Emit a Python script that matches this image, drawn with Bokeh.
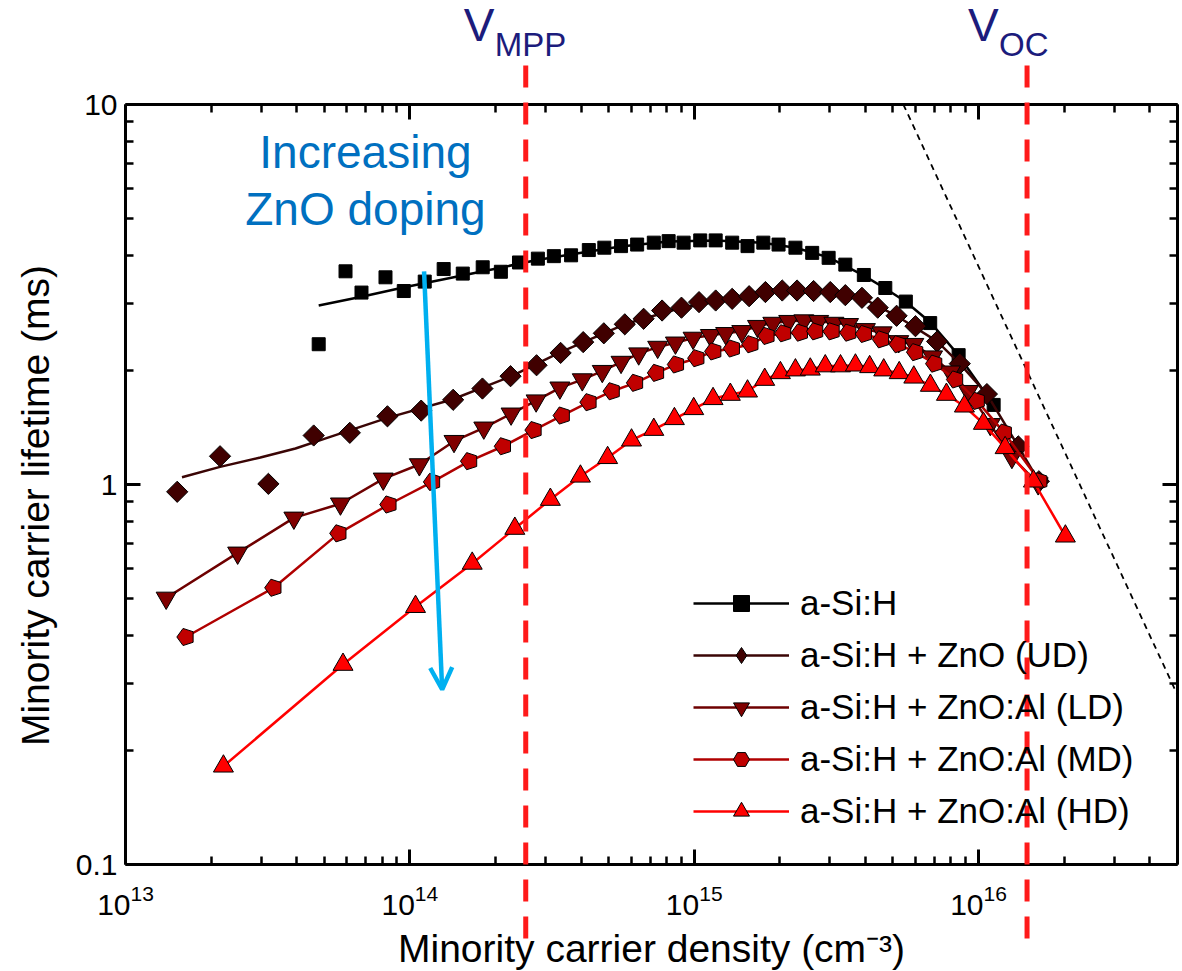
import math
from bokeh.plotting import figure
from bokeh.models import (ColumnDataSource, LogAxis, Label, Arrow, OpenHead, Whisker,
                          Legend, LegendItem, CustomJSTickFormatter, FixedTicker, Range1d)
from bokeh.embed import file_html
from bokeh.resources import INLINE

# ---------------- data ----------------
asi_x = [4.78e13, 5.94e13, 6.76e13, 8.21e13, 9.52e13, 1.128e14, 1.315e14, 1.535e14, 1.804e14, 2.09e14,
         2.42e14, 2.82e14, 3.21e14, 3.69e14, 4.26e14, 4.83e14, 5.53e14, 6.30e14, 7.21e14, 8.13e14,
         9.18e14, 1.05e15, 1.19e15, 1.36e15, 1.54e15, 1.75e15, 1.98e15, 2.27e15, 2.60e15, 2.97e15,
         3.40e15, 3.95e15, 4.70e15, 5.55e15, 6.76e15, 8.51e15, 1.13e16]
asi_y = [2.34, 3.64, 3.20, 3.51, 3.23, 3.42, 3.69, 3.59, 3.73, 3.63,
         3.84, 3.93, 3.99, 4.01, 4.14, 4.20, 4.24, 4.28, 4.33, 4.37,
         4.33, 4.39, 4.39, 4.33, 4.24, 4.33, 4.28, 4.20, 4.07, 3.95,
         3.79, 3.56, 3.29, 3.03, 2.66, 2.19, 1.62]
asi_fit_x = [4.78e13, 6.76e13, 9.48e13, 1.53e14, 2.08e14, 2.77e14, 3.67e14, 5.51e14, 8.11e14, 1.19e15,
             1.74e15, 2.27e15, 2.97e15, 3.94e15, 4.70e15, 5.53e15, 6.78e15, 8.50e15, 1.13e16]
asi_fit_y = [2.96, 3.12, 3.30, 3.55, 3.72, 3.89, 4.03, 4.23, 4.36, 4.39,
             4.33, 4.20, 3.96, 3.55, 3.28, 3.03, 2.67, 2.19, 1.62]

ud_x = [1.52e13, 2.15e13, 3.18e13, 4.59e13, 6.15e13, 8.34e13, 1.096e14, 1.42e14, 1.80e14, 2.26e14,
        2.79e14, 3.39e14, 4.07e14, 4.81e14, 5.70e14, 6.64e14, 7.71e14, 9.02e14, 1.04e15, 1.19e15,
        1.36e15, 1.56e15, 1.78e15, 2.04e15, 2.30e15, 2.63e15, 3.01e15, 3.40e15, 3.89e15, 4.42e15,
        5.15e15, 6.00e15, 7.15e15, 8.59e15, 1.07e16, 1.38e16, 1.63e16]
ud_y = [0.957, 1.187, 1.004, 1.346, 1.368, 1.512, 1.565, 1.671, 1.789, 1.928,
        2.06, 2.22, 2.37, 2.50, 2.64, 2.73, 2.87, 2.92, 3.02, 3.05,
        3.08, 3.13, 3.21, 3.24, 3.24, 3.23, 3.21, 3.15, 3.10, 2.92,
        2.78, 2.61, 2.38, 2.08, 1.73, 1.26, 1.02]
ud_fit_x = [1.58e13, 2.15e13, 2.98e13, 3.96e13, 5.12e13, 8.34e13, 1.41e14, 2.26e14, 3.39e14, 5.69e14,
            9.02e14, 1.36e15, 2.04e15, 3.01e15, 3.89e15, 5.14e15, 7.15e15, 8.59e15, 1.07e16, 1.38e16, 1.63e16]
ud_fit_y = [1.045, 1.113, 1.178, 1.244, 1.327, 1.498, 1.674, 1.924, 2.23, 2.64,
            2.92, 3.08, 3.24, 3.22, 3.10, 2.78, 2.38, 2.08, 1.73, 1.26, 1.02]

ld_x = [1.39e13, 2.48e13, 3.91e13, 5.70e13, 8.06e13, 1.08e14, 1.43e14, 1.82e14, 2.27e14, 2.78e14,
        3.37e14, 4.04e14, 4.75e14, 5.53e14, 6.38e14, 7.44e14, 8.59e14, 9.91e14, 1.14e15, 1.29e15,
        1.47e15, 1.67e15, 1.89e15, 2.15e15, 2.43e15, 2.74e15, 3.10e15, 3.49e15, 4.00e15, 4.58e15,
        5.24e15, 5.92e15, 6.89e15, 7.96e15, 9.21e15, 1.10e16, 1.31e16, 1.62e16]
ld_y = [0.503, 0.661, 0.817, 0.890, 1.035, 1.129, 1.300, 1.410, 1.535, 1.662,
        1.797, 1.889, 1.987, 2.10, 2.21, 2.30, 2.36, 2.43, 2.47, 2.50,
        2.53, 2.61, 2.66, 2.69, 2.70, 2.69, 2.66, 2.64, 2.56, 2.51,
        2.38, 2.34, 2.17, 1.98, 1.76, 1.44, 1.18, 1.006]

md_x = [1.63e13, 3.32e13, 5.62e13, 8.43e13, 1.20e14, 1.62e14, 2.13e14, 2.73e14, 3.43e14, 4.26e14,
        5.14e14, 6.21e14, 7.36e14, 8.65e14, 1.02e15, 1.17e15, 1.36e15, 1.58e15, 1.80e15, 2.06e15,
        2.36e15, 2.67e15, 3.05e15, 3.49e15, 3.96e15, 4.55e15, 5.21e15, 6.00e15, 7.00e15, 8.29e15,
        9.88e15, 1.23e16, 1.64e16]
md_y = [0.397, 0.535, 0.744, 0.886, 1.016, 1.152, 1.261, 1.391, 1.519, 1.647,
        1.760, 1.852, 1.967, 2.07, 2.15, 2.24, 2.28, 2.34, 2.46, 2.50,
        2.51, 2.53, 2.53, 2.51, 2.49, 2.41, 2.34, 2.23, 2.08, 1.89,
        1.66, 1.37, 1.02]

hd_x = [2.21e13, 5.82e13, 1.047e14, 1.657e14, 2.34e14, 3.12e14, 3.98e14, 4.96e14, 6.02e14, 7.21e14,
        8.52e14, 9.96e14, 1.165e15, 1.34e15, 1.54e15, 1.77e15, 2.01e15, 2.27e15, 2.56e15, 2.89e15,
        3.27e15, 3.69e15, 4.14e15, 4.64e15, 5.26e15, 5.92e15, 6.77e15, 7.71e15, 8.92e15, 1.04e16,
        1.24e16, 1.56e16, 2.02e16]
hd_y = [0.1814, 0.336, 0.477, 0.620, 0.766, 0.913, 1.051, 1.176, 1.308, 1.395,
        1.489, 1.582, 1.681, 1.725, 1.760, 1.889, 1.967, 2.00, 2.01, 2.05,
        2.05, 2.06, 2.04, 2.00, 1.967, 1.915, 1.822, 1.725, 1.607, 1.447,
        1.249, 1.02, 0.731]

# auger-like limit (dashed black)
limit_x = [5.44e15, 5.0e16]
limit_y = [10.0, 0.28]

# operating points (vertical dashed lines run past the axes box)
vmpp_x = 2.556e14
voc_x = 1.481e16
vline_top = 12.66
vline_bottom = 0.0605

# arrow "increasing ZnO doping"
arrow_start = (1.122e14, 3.64)
arrow_end = (1.299e14, 0.2888)

series_names = ["a-Si:H", "a-Si:H + ZnO (UD)", "a-Si:H + ZnO:Al (LD)",
                "a-Si:H + ZnO:Al (MD)", "a-Si:H + ZnO:Al (HD)"]

x_axis_lim = (1e13, 5e16)
y_axis_lim = (0.1, 10)
x_major = [1e13, 1e14, 1e15, 1e16]
y_major = [0.1, 1, 10]
x_minor = [m * 10 ** e for e in (13, 14, 15, 16) for m in range(2, 10) if m * 10 ** e <= 5e16]
y_minor = [m * 10 ** e for e in (-1, 0) for m in range(2, 10)]

# visible window: the drawing area covers the whole page so that the dashed
# operating-point lines and their labels can leave the axes box
x_view = (3.634e12, 5.215e16)
y_view = (0.05231, 18.78)

# ---------------- figure ----------------
FONT = "Liberation Sans"
p = figure(frame_width=1182, frame_height=971, x_axis_type="log", y_axis_type="log",
           x_range=Range1d(*x_view), y_range=Range1d(*y_view),
           output_backend="svg", toolbar_location=None,
           min_border_left=0, min_border_top=0, min_border_right=0, min_border_bottom=0)
p.grid.visible = False
p.outline_line_color = None
p.background_fill_color = "white"
p.border_fill_color = "white"

xticker = FixedTicker(ticks=x_major, minor_ticks=x_minor)
yticker = FixedTicker(ticks=y_major, minor_ticks=y_minor)


def style_axis(ax):
    ax.axis_line_width = 3
    ax.major_tick_line_width = 3
    ax.minor_tick_line_width = 2.5
    ax.major_tick_in = 15
    ax.major_tick_out = 0
    ax.minor_tick_in = 8
    ax.minor_tick_out = 0
    ax.major_label_text_font = FONT
    ax.major_label_text_font_size = "30px"
    ax.major_label_text_color = "black"


xa = p.xaxis[0]
xa.ticker = xticker
style_axis(xa)
xa.fixed_location = y_axis_lim[0]
xa.bounds = x_axis_lim
xa.major_label_standoff = 20

ya = p.yaxis[0]
ya.ticker = yticker
style_axis(ya)
ya.fixed_location = x_axis_lim[0]
ya.bounds = y_axis_lim
ya.formatter = CustomJSTickFormatter(code="return tick < 1 ? tick.toFixed(1) : tick.toFixed(0);")
ya.major_label_standoff = 8

blank = "return '';"
top_ax = LogAxis(ticker=xticker, formatter=CustomJSTickFormatter(code=blank))
style_axis(top_ax)
top_ax.fixed_location = y_axis_lim[1]
top_ax.bounds = x_axis_lim
top_ax.major_label_standoff = 0
p.add_layout(top_ax, "above")
right_ax = LogAxis(ticker=yticker, formatter=CustomJSTickFormatter(code=blank))
style_axis(right_ax)
right_ax.fixed_location = x_axis_lim[1]
right_ax.bounds = y_axis_lim
right_ax.major_label_standoff = 0
p.add_layout(right_ax, "right")

# axis titles
p.add_layout(Label(x=7.08e14, y=0.0601, text="Minority carrier density (cm\u207b\u00b3)",
                   text_font=FONT, text_font_size="39px", text_color="black",
                   text_align="center", text_baseline="alphabetic"))
p.add_layout(Label(x=4.83e12, y=0.8806, text="Minority carrier lifetime (ms)", angle=math.pi / 2,
                   text_font=FONT, text_font_size="39px", text_color="black",
                   text_align="center", text_baseline="middle"))

# limit line
p.line(limit_x, limit_y, line_color="black", line_width=1.8, line_dash="6 5")

# series
c_asi, c_ud, c_ld, c_md, c_hd = "#000000", "#400000", "#800000", "#C00000", "#FF0000"

asi_line = p.line(asi_fit_x, asi_fit_y, line_color=c_asi, line_width=2.5)
asi_mk = p.scatter(asi_x, asi_y, marker="square", size=13, fill_color=c_asi, line_color="black", line_width=1)

ud_line = p.line(ud_fit_x, ud_fit_y, line_color="#3a0505", line_width=2.5)
ud_mk = p.scatter(ud_x, ud_y, marker="square", angle=math.pi / 4, size=15, fill_color=c_ud,
                  line_color="black", line_width=1)
ud_legend_mk = p.scatter(ud_x, ud_y, marker="diamond", size=17, fill_color=c_ud,
                         line_color="black", line_width=1, visible=False)

ld_line = p.line(ld_x, ld_y, line_color="#6e0000", line_width=2.5)
ld_mk = p.scatter(ld_x, ld_y, marker="inverted_triangle", size=20, fill_color=c_ld,
                  line_color="black", line_width=1)

md_line = p.line(md_x, md_y, line_color="#b00000", line_width=2.5)
md_legend_mk = p.scatter(md_x, md_y, marker="hex", angle=math.pi / 2, size=17, fill_color=c_md,
                         line_color="black", line_width=1)
try:
    p.ngon(x=md_x, y=md_y, radius=9, radius_units="screen", n=5, angle=math.pi / 2,
           fill_color=c_md, line_color="black", line_width=1)
    md_legend_mk.visible = False
except Exception:
    pass

hd_line = p.line(hd_x, hd_y, line_color=c_hd, line_width=2.5)
hd_mk = p.scatter(hd_x, hd_y, marker="triangle", size=20, fill_color=c_hd, line_color="black", line_width=1)

# legend
items = [
    LegendItem(label=series_names[0], renderers=[asi_line, asi_mk]),
    LegendItem(label=series_names[1], renderers=[ud_line, ud_legend_mk]),
    LegendItem(label=series_names[2], renderers=[ld_line, ld_mk]),
    LegendItem(label=series_names[3], renderers=[md_line, md_legend_mk]),
    LegendItem(label=series_names[4], renderers=[hd_line, hd_mk]),
]
legend = Legend(items=items, location=(693, 140), glyph_width=96, glyph_height=40, label_height=40,
                spacing=12, label_standoff=11, padding=0, margin=0, border_line_alpha=0,
                background_fill_alpha=0, label_text_font=FONT, label_text_font_size="35px",
                label_text_color="black")
p.add_layout(legend)

# vertical dashed operating-point lines
vsrc = ColumnDataSource(dict(base=[vmpp_x, voc_x], lower=[vline_top, vline_top],
                             upper=[vline_bottom, vline_bottom]))
p.add_layout(Whisker(source=vsrc, base="base", lower="lower", upper="upper", dimension="height",
                     line_color="#FF1A1A", line_width=5, line_dash="22 15",
                     lower_head=None, upper_head=None, level="overlay"))

# V labels
navy = "#1c1c7c"
for xv, sub, xo_v, xo_s in [(vmpp_x, "MPP", -62, -31), (voc_x, "OC", -59, -28)]:
    p.add_layout(Label(x=xv, y=10, x_offset=xo_v, y_offset=80, text="V", text_font=FONT,
                       text_font_size="46px", text_color=navy, text_baseline="alphabetic"))
    p.add_layout(Label(x=xv, y=10, x_offset=xo_s, y_offset=60, text=sub, text_font=FONT,
                       text_font_size="33px", text_color=navy, text_baseline="alphabetic"))

# blue arrow + text
p.add_layout(Arrow(end=OpenHead(size=22, line_color="#00B0F0", line_width=4.5),
                   x_start=arrow_start[0], y_start=arrow_start[1],
                   x_end=arrow_end[0], y_end=arrow_end[1],
                   line_color="#00B0F0", line_width=4.5))
p.add_layout(Label(x=6.98e13, y=7.52, text="Increasing", text_font=FONT, text_font_size="46px",
                   text_color="#0070C0", text_align="center", text_baseline="alphabetic"))
p.add_layout(Label(x=6.98e13, y=5.32, text="ZnO doping", text_font=FONT, text_font_size="46px",
                   text_color="#0070C0", text_align="center", text_baseline="alphabetic"))

open("out.html", "w").write(file_html(p, INLINE))
